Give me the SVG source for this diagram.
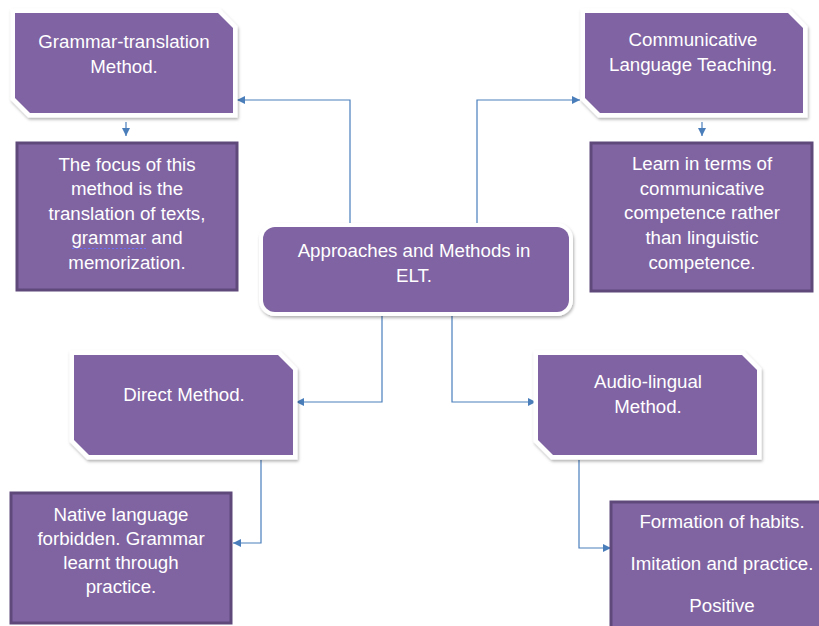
<svg xmlns="http://www.w3.org/2000/svg" width="819" height="626" viewBox="0 0 819 626">
<style>
.hdr{fill:#8064a2;stroke:#ffffff;stroke-width:9;stroke-linejoin:miter;paint-order:stroke;filter:url(#sh)}
.desc{fill:#8064a2;stroke:#5f497a;stroke-width:3}
.t{font-family:"Liberation Sans",Arial,sans-serif;font-size:18.7px;fill:#ffffff;text-anchor:middle}
.c{fill:none;stroke:#4a7ebb;stroke-width:1.2}
</style>
<defs>
<filter id="sh" x="-10%" y="-10%" width="125%" height="130%">
<feDropShadow dx="1" dy="2" stdDeviation="1.6" flood-color="#000" flood-opacity="0.3"/>
</filter>
<marker id="ah" viewBox="0 0 10 10" refX="10" refY="5" markerWidth="8" markerHeight="8" markerUnits="userSpaceOnUse" orient="auto">
<path d="M0,0 L10,5 L0,10 Z" fill="#4a7ebb"/>
</marker>
</defs>
<rect width="819" height="626" fill="#ffffff"/>
<g id="connectors">
<path class="c" d="M350,228 V100 H237" marker-end="url(#ah)"/>
<path class="c" d="M477,228 V100 H580" marker-end="url(#ah)"/>
<path class="c" d="M126,122 V136" marker-end="url(#ah)"/>
<path class="c" d="M702,122 V136" marker-end="url(#ah)"/>
<path class="c" d="M382,312 V402 H296" marker-end="url(#ah)"/>
<path class="c" d="M452,312 V402 H536" marker-end="url(#ah)"/>
<path class="c" d="M261,460 V543 H233" marker-end="url(#ah)"/>
<path class="c" d="M579,460 V548 H611" marker-end="url(#ah)"/>
</g>
<g id="grammar-translation">
<polygon class="hdr" points="15,13 218,13 233,28 233,113 30,113 15,98"/>
<text class="t" x="124" y="48">Grammar-translation</text>
<text class="t" x="124" y="73">Method.</text>
</g>
<g id="grammar-desc">
<rect class="desc" x="17" y="143" width="220" height="147"/>
<text class="t" x="127" y="171">The focus of this</text>
<text class="t" x="127" y="195">method is the</text>
<text class="t" x="127" y="220">translation of texts,</text>
<text class="t" x="127" y="244">grammar and</text>
<text class="t" x="127" y="269">memorization.</text>
<line x1="72" y1="248.5" x2="147" y2="248.5" stroke="#6f6fff" stroke-width="1" stroke-dasharray="2,2"/>
</g>
<g id="communicative">
<polygon class="hdr" points="585,13 788,13 803,28 803,113 600,113 585,98"/>
<text class="t" x="693" y="46">Communicative</text>
<text class="t" x="693" y="71">Language Teaching.</text>
</g>
<g id="communicative-desc">
<rect class="desc" x="591" y="143" width="221" height="148"/>
<text class="t" x="702" y="170">Learn in terms of</text>
<text class="t" x="702" y="195">communicative</text>
<text class="t" x="702" y="219">competence rather</text>
<text class="t" x="702" y="244">than linguistic</text>
<text class="t" x="702" y="269">competence.</text>
</g>
<g id="center">
<rect x="263" y="227" width="306" height="85" rx="12" fill="#8064a2" stroke="#ffffff" stroke-width="8" paint-order="stroke" filter="url(#sh)"/>
<text class="t" x="414" y="257">Approaches and Methods in</text>
<text class="t" x="414" y="282">ELT.</text>
</g>
<g id="direct">
<polygon class="hdr" points="74,355 278,355 293,370 293,455 89,455 74,440"/>
<text class="t" x="184" y="401">Direct Method.</text>
</g>
<g id="direct-desc">
<rect class="desc" x="11" y="493" width="220" height="130"/>
<text class="t" x="121" y="521">Native language</text>
<text class="t" x="121" y="545">forbidden. Grammar</text>
<text class="t" x="121" y="569">learnt through</text>
<text class="t" x="121" y="593">practice.</text>
</g>
<g id="audio-lingual">
<polygon class="hdr" points="538,355 742,355 757,370 757,455 553,455 538,440"/>
<text class="t" x="648" y="388">Audio-lingual</text>
<text class="t" x="648" y="413">Method.</text>
</g>
<g id="audio-desc">
<rect class="desc" x="611" y="502" width="230" height="140"/>
<text class="t" x="722" y="528">Formation of habits.</text>
<text class="t" x="722" y="570">Imitation and practice.</text>
<text class="t" x="722" y="612">Positive</text>
</g>
</svg>
